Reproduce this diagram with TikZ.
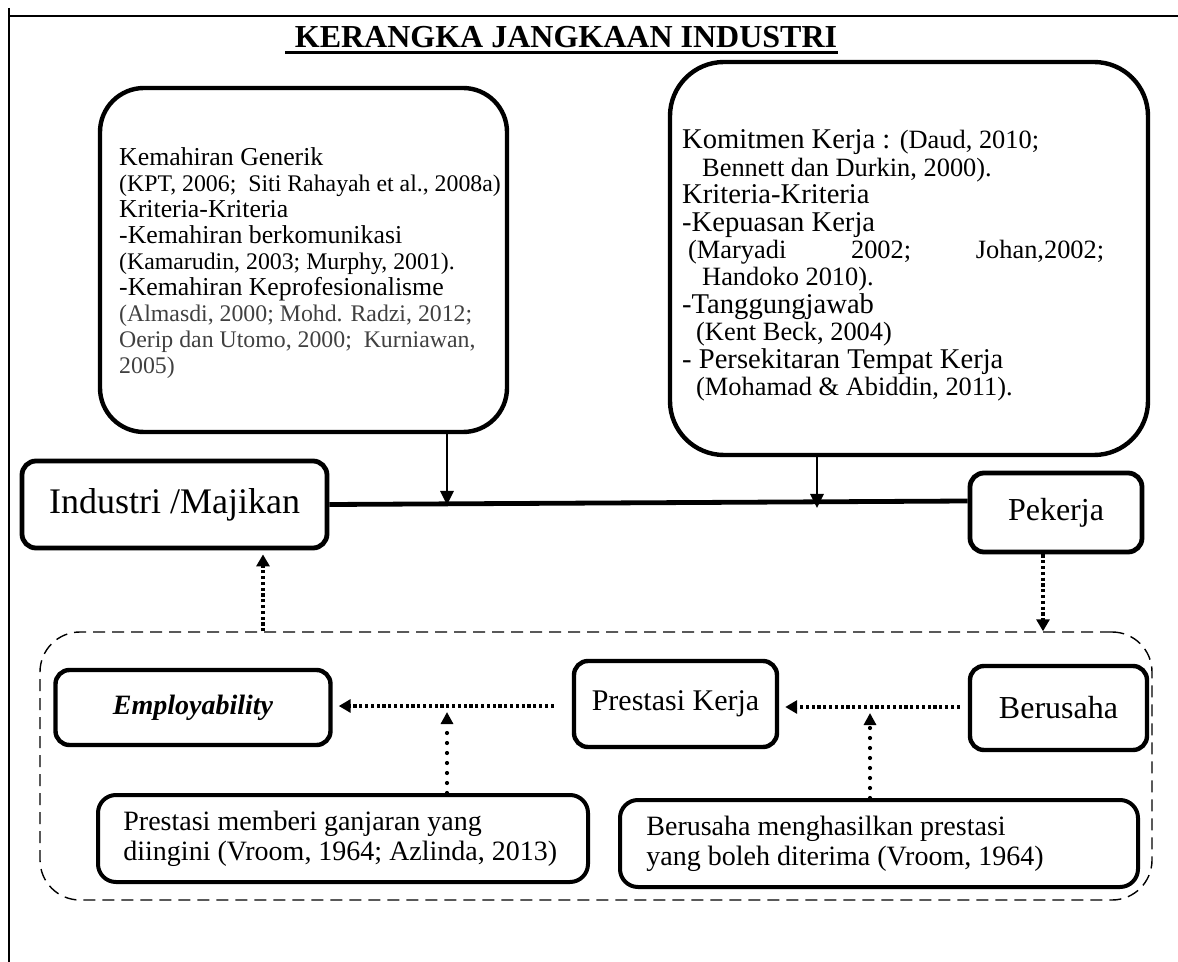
\documentclass[tikz,border=0pt]{standalone}
\usepackage{fontspec}
\setmainfont{Liberation Serif}
\usetikzlibrary{arrows.meta,calc}
\newcommand{\hdf}{\fontsize{12.9pt}{13pt}\selectfont}
\newcommand{\ctf}{\fontsize{11.9pt}{13pt}\selectfont}
\newcommand{\rhdf}{\fontsize{14.3pt}{13.7pt}\selectfont}
\newcommand{\rctf}{\fontsize{13.2pt}{13.7pt}\selectfont}
\newcommand{\midf}{\fontsize{14pt}{15pt}\selectfont}
\newcommand{\lblf}{\fontsize{16pt}{18pt}\selectfont}
\newcommand{\titf}{\fontsize{16pt}{18pt}\selectfont\bfseries}
\begin{document}
\begin{tikzpicture}[x=0.5pt,y=-0.5pt,
  bigbox/.style={draw, line width=2.2pt, inner sep=0pt},
  lblbox/.style={draw, line width=2.4pt, rounded corners=7pt, inner sep=0pt, font=\lblf},
  smbox/.style={draw, line width=2pt, rounded corners=9pt, inner sep=0pt},
  txt/.style={inner sep=0pt, align=left, anchor=west},
  frameline/.style={line width=0.8pt},
  solidarr/.style={line width=1.4pt, -{Triangle[length=7pt,width=6.5pt]}},
  sqdot/.style={line width=2.2pt, dash pattern=on 1.6pt off 1.3pt, -{Triangle[length=6pt,width=6.5pt]}},
  rddot/.style={line width=2.1pt, line cap=round, dash pattern=on 0pt off 5pt, -{Triangle[length=6pt,width=6pt]}},
  contbox/.style={draw, line width=0.7pt, dash pattern=on 6pt off 3.5pt, rounded corners=20pt, inner sep=0pt}
]
\useasboundingbox (0,0) rectangle (1178,962);

% frame
\coordinate (f1) at (9,8);
\coordinate (f2) at (9,962);
\coordinate (f3) at (8,16);
\coordinate (f4) at (1178,16);
\draw[frameline] (f1) -- (f2);
\draw[frameline] (f3) -- (f4);

% title
\node[font=\titf, inner sep=0pt, anchor=base] (T) at (566,48) {KERANGKA JANGKAAN INDUSTRI};
\draw[line width=1.7pt] ([xshift=-4.5pt,yshift=-2.4pt]T.base west) -- ([yshift=-2.4pt]T.base east);

% top boxes
\node[bigbox, rounded corners=22pt, minimum width=203.5pt, minimum height=172pt] (L) at (303.5,260) {};
\node[txt, font=\hdf] (Lt) at ($(L.west)+(21,3)$) {%
Kemahiran Generik\\
{\ctf (KPT, 2006;\ \ Siti Rahayah et al., 2008a)}\\
Kriteria-Kriteria\\
-Kemahiran berkomunikasi\\
{\ctf (Kamarudin, 2003; Murphy, 2001).}\\
-Kemahiran Keprofesionalisme\\
{\ctf\color{black!75}(Almasdi, 2000; Mohd. Radzi, 2012;}\\
{\ctf\color{black!75}Oerip dan Utomo, 2000;\ \ Kurniawan,}\\
{\ctf\color{black!75}2005)}};

\node[bigbox, rounded corners=27pt, minimum width=239pt, minimum height=196.5pt] (R) at (909,258.5) {};
\node[txt, font=\rhdf] (Rt) at ($(R.west)+(14,7)$) {%
Komitmen Kerja : {\rctf (Daud, 2010;}\\
{\rctf\hspace*{10pt}Bennett dan Durkin, 2000).}\\
Kriteria-Kriteria\\
-Kepuasan Kerja\\
{\rctf\hspace*{3pt}\hbox to 208pt{(Maryadi\hfill 2002;\hfill Johan,2002;}}\\
{\rctf\hspace*{10pt}Handoko 2010).}\\
-Tanggungjawab\\
{\rctf\hspace*{7pt}(Kent Beck, 2004)}\\
- Persekitaran Tempat Kerja\\
{\rctf\hspace*{7pt}(Mohamad \& Abiddin, 2011).}};

% middle row
\node[lblbox, font=\fontsize{18pt}{20pt}\selectfont, minimum width=152.5pt, minimum height=43.5pt] (I) at (174.5,504.5) {Industri /Majikan};
\node[lblbox, minimum width=86pt, minimum height=39.5pt] (P) at (1056,512.5) {Pekerja};

\draw[line width=2.4pt] (I.east) -- (P.west |- 0,501);
\coordinate (la) at (447,505);
\coordinate (ra) at (817,508);
\draw[solidarr] (L.south -| la) -- (la);
\draw[solidarr] (R.south -| ra) -- (ra);

% container
\node[contbox, minimum width=556pt, minimum height=134pt] (C) at (596,766) {};

\draw[sqdot, shorten >=2pt] (C.north -| 263,0) -- (I.south -| 263,0);
\draw[sqdot] (P.south -| 1043,0) -- (C.north -| 1043,0);

% inner row
\node[lblbox, line width=2.2pt, font=\fontsize{14pt}{16pt}\selectfont\bfseries\itshape, minimum width=137.5pt, minimum height=37.5pt] (E) at (193,707.5) {Employability};
\node[lblbox, line width=2.2pt, font=\fontsize{15pt}{17pt}\selectfont, minimum width=101.5pt, minimum height=43pt] (PK) at (675.5,704) {Prestasi Kerja};
\node[lblbox, line width=2.2pt, minimum width=88.5pt, minimum height=42pt] (B) at (1058.5,708) {Berusaha};

\draw[sqdot, shorten <=9pt, shorten >=3pt] (PK.west |- 0,706) -- (E.east |- 0,706);
\draw[sqdot, shorten <=4pt, shorten >=3pt] (B.west |- 0,707) -- (PK.east |- 0,707);

% bottom boxes
\node[smbox, minimum width=245pt, minimum height=43.5pt] (BL) at (343,838.5) {};
\node[txt, font=\midf] (BLt) at ($(BL.west)+(27,0)$) {Prestasi memberi ganjaran yang\\diingini (Vroom, 1964; Azlinda, 2013)};
\node[smbox, minimum width=259pt, minimum height=43.5pt] (BR) at (879,843.5) {};
\node[txt, font=\midf] (BRt) at ($(BR.west)+(28,0)$) {Berusaha menghasilkan prestasi\\yang boleh diterima (Vroom, 1964)};

\coordinate (h1) at (447,712);
\coordinate (h2) at (870,713);
\draw[rddot] (BL.north -| h1) -- (h1);
\draw[rddot] (BR.north -| h2) -- (h2);
\end{tikzpicture}
\end{document}
